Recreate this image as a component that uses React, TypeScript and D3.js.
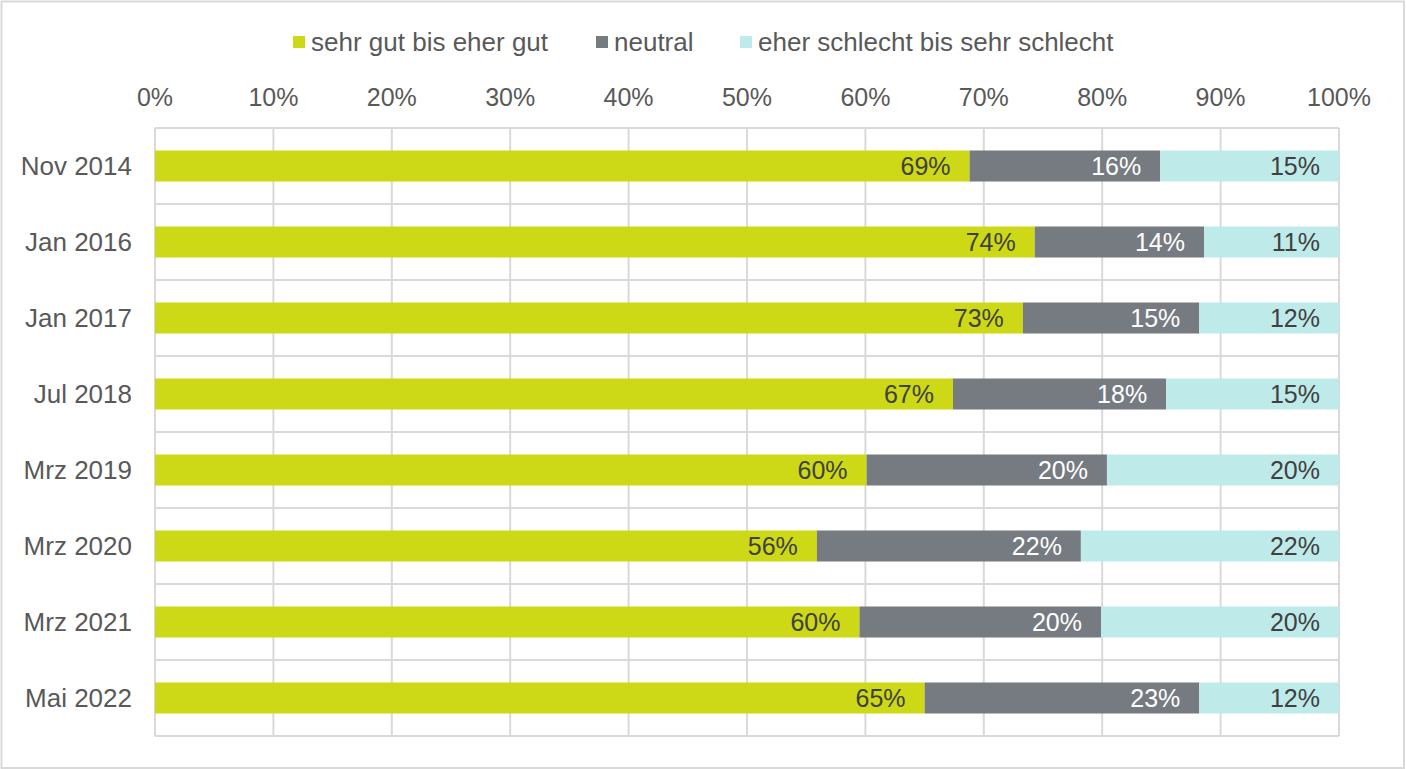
import { useEffect, useRef } from "react";
import * as d3 from "d3";

const categories = [
  "Nov 2014",
  "Jan 2016",
  "Jan 2017",
  "Jul 2018",
  "Mrz 2019",
  "Mrz 2020",
  "Mrz 2021",
  "Mai 2022",
];
const gut = [68.8, 74.3, 73.3, 67.4, 60.1, 55.9, 59.5, 65.0];
const neutral = [16.1, 14.3, 14.9, 18.0, 20.3, 22.3, 20.4, 23.2];
const schlecht = [15.1, 11.4, 11.8, 14.6, 19.6, 21.8, 20.1, 11.8];
const seriesNames = ["sehr gut bis eher gut", "neutral", "eher schlecht bis sehr schlecht"];
const seriesColors = ["#cdd816", "#767b81", "#bfeaea"];
const labelColors = ["#404040", "#ffffff", "#404040"];
const xTicks = [0, 10, 20, 30, 40, 50, 60, 70, 80, 90, 100];

export default function App() {
  const svgRef = useRef<SVGSVGElement | null>(null);

  useEffect(() => {
    if (!svgRef.current) return;
    const svg = d3.select(svgRef.current);
    svg.selectAll("*").remove();

    const width = 1406;
    const height = 769;
    const margin = { top: 128, right: 67, bottom: 33, left: 155 };
    const innerWidth = width - margin.left - margin.right;
    const innerHeight = height - margin.top - margin.bottom;
    const font = "'Liberation Sans', Arial, sans-serif";

    // outer frame
    svg
      .append("rect")
      .attr("x", 1.5)
      .attr("y", 1.5)
      .attr("width", width - 3.5)
      .attr("height", height - 2.5)
      .attr("fill", "#ffffff")
      .attr("stroke", "#d9d9d9")
      .attr("stroke-width", 2);

    const rows = categories.map((c, i) => ({
      cat: c,
      gut: gut[i],
      neutral: neutral[i],
      schlecht: schlecht[i],
    }));
    const keys = ["gut", "neutral", "schlecht"] as const;
    const stacked = d3.stack<typeof rows[number]>().keys(keys as any)(rows);

    const x = d3.scaleLinear().domain([0, 100]).range([0, innerWidth]);
    const yOuter = d3
      .scaleBand()
      .domain(categories)
      .range([0, innerHeight])
      .paddingInner(0)
      .paddingOuter(0);
    const barH = 31;

    const root = svg
      .append("g")
      .attr("transform", `translate(${margin.left},${margin.top})`);

    // grid
    root
      .append("g")
      .selectAll("line")
      .data(xTicks)
      .join("line")
      .attr("x1", (d) => x(d))
      .attr("x2", (d) => x(d))
      .attr("y1", 0)
      .attr("y2", innerHeight)
      .attr("stroke", "#d9d9d9")
      .attr("stroke-width", 2);

    root
      .append("g")
      .selectAll("line")
      .data(d3.range(categories.length + 1))
      .join("line")
      .attr("x1", 0)
      .attr("x2", innerWidth)
      .attr("y1", (i) => i * yOuter.step())
      .attr("y2", (i) => i * yOuter.step())
      .attr("stroke", "#d9d9d9")
      .attr("stroke-width", 2);

    // bars
    stacked.forEach((layer, li) => {
      const g = root.append("g");
      g.selectAll("rect")
        .data(layer)
        .join("rect")
        .attr("x", (d) => x(d[0]))
        .attr("width", (d) => x(d[1]) - x(d[0]))
        .attr("y", (d) => (yOuter(d.data.cat) ?? 0) + yOuter.bandwidth() / 2 - barH / 2)
        .attr("height", barH)
        .attr("fill", seriesColors[li]);
      g.selectAll("text")
        .data(layer)
        .join("text")
        .attr("x", (d) => x(d[1]) - 19)
        .attr("y", (d) => (yOuter(d.data.cat) ?? 0) + yOuter.bandwidth() / 2)
        .attr("dy", "0.36em")
        .attr("text-anchor", "end")
        .attr("font-family", font)
        .attr("font-size", 25)
        .attr("fill", labelColors[li])
        .text((d) => `${Math.round(d[1] - d[0])}%`);
    });

    // x axis labels (top)
    root
      .append("g")
      .selectAll("text")
      .data(xTicks)
      .join("text")
      .attr("x", (d) => x(d))
      .attr("y", -22)
      .attr("text-anchor", "middle")
      .attr("font-family", font)
      .attr("font-size", 25)
      .attr("fill", "#595959")
      .text((d) => `${d}%`);

    // category labels
    root
      .append("g")
      .selectAll("text")
      .data(categories)
      .join("text")
      .attr("x", -23)
      .attr("y", (d) => (yOuter(d) ?? 0) + yOuter.bandwidth() / 2)
      .attr("dy", "0.36em")
      .attr("text-anchor", "end")
      .attr("font-family", font)
      .attr("font-size", 26)
      .attr("fill", "#595959")
      .text((d) => d);

    // legend
    const legendX = [293, 596, 740];
    const legend = svg.append("g");
    seriesNames.forEach((name, i) => {
      legend
        .append("rect")
        .attr("x", legendX[i])
        .attr("y", 36)
        .attr("width", 12)
        .attr("height", 12)
        .attr("fill", seriesColors[i]);
      legend
        .append("text")
        .attr("x", legendX[i] + 18)
        .attr("y", 42)
        .attr("dy", "0.36em")
        .attr("font-family", font)
        .attr("font-size", 26)
        .attr("fill", "#595959")
        .text(name);
    });
  }, []);

  return (
    <div style={{ position: "absolute", left: 0, top: 0 }}>
      <svg ref={svgRef} width={1406} height={769} style={{ display: "block" }} />
    </div>
  );
}
